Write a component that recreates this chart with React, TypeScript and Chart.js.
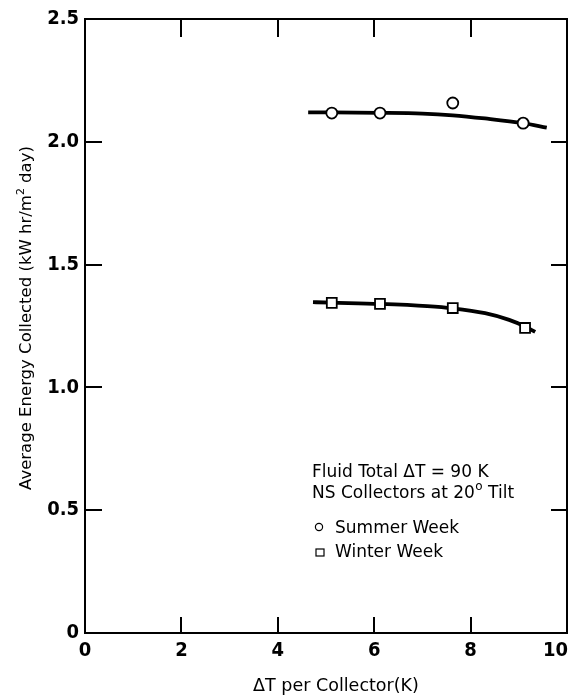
import { useEffect, useRef } from "react";
import { Chart, registerables } from "chart.js";

Chart.register(...registerables);

// Measured data points
const summerX = [5.12, 6.12, 7.63, 9.09];
const summerY = [2.117, 2.117, 2.158, 2.076];
const winterX = [5.12, 6.12, 7.63, 9.13];
const winterY = [1.344, 1.34, 1.323, 1.242];

// Hand-drawn fit curves
const summerFitX = [4.63, 6.1, 7.0, 7.63, 8.3, 9.09, 9.58];
const summerFitY = [2.12, 2.118, 2.115, 2.108, 2.095, 2.076, 2.058];
const winterFitX = [4.73, 5.12, 6.12, 7.1, 7.63, 8.3, 8.8, 9.13, 9.34];
const winterFitY = [1.347, 1.345, 1.34, 1.331, 1.322, 1.302, 1.275, 1.248, 1.226];

const xTicks = [0, 2, 4, 6, 8, 10];
const xTickLabels = ["0", "2", "4", "6", "8", "10"];
const yTicks = [0, 0.5, 1.0, 1.5, 2.0, 2.5];
const yTickLabels = ["0", "0.5", "1.0", "1.5", "2.0", "2.5"];
const seriesLabels = ["Summer Week", "Winter Week"];
const noteLine1 = "Fluid Total \u0394T = 90 K";
const noteLine2 = ["NS Collectors at 20", "o", " Tilt"];
const xTitle = "\u0394T per Collector(K)";
const yTitle = ["Average Energy Collected (kW hr/m", "2", " day)"];

const FONT = "'DejaVu Sans', sans-serif";
const TICKFONT = "'Liberation Sans Narrow', 'DejaVu Sans Condensed', sans-serif";

const zip = (xs: number[], ys: number[]) => xs.map((x, i) => ({ x, y: ys[i] }));

const framePlugin = {
  id: "frame",
  afterDraw(chart: any) {
    const ctx = chart.ctx as CanvasRenderingContext2D;
    const { left, right, top, bottom } = chart.chartArea;
    const xs = chart.scales.x;
    const ys = chart.scales.y;
    ctx.save();
    ctx.strokeStyle = "#000";
    ctx.lineWidth = 2;
    ctx.strokeRect(left, top, right - left, bottom - top);
    // inward ticks
    ctx.beginPath();
    xTicks.slice(1, -1).forEach((v) => {
      const px = Math.round(xs.getPixelForValue(v));
      ctx.moveTo(px, bottom);
      ctx.lineTo(px, bottom - 16);
      ctx.moveTo(px, top);
      ctx.lineTo(px, top + 18);
    });
    yTicks.slice(1, -1).forEach((v) => {
      const py = Math.round(ys.getPixelForValue(v));
      ctx.moveTo(left, py);
      ctx.lineTo(left + 17, py);
      ctx.moveTo(right, py);
      ctx.lineTo(right - 16, py);
    });
    ctx.stroke();

    ctx.fillStyle = "#000";
    // x tick labels
    ctx.font = `bold 20px ${TICKFONT}`;
    ctx.textBaseline = "top";
    xTicks.forEach((v, i) => {
      const px = xs.getPixelForValue(v);
      const w = ctx.measureText(xTickLabels[i]).width;
      ctx.textAlign = "left";
      const lx = Math.min(px - w / 2, chart.width - w - 4);
      ctx.fillText(xTickLabels[i], lx, 641);
    });

    ctx.textBaseline = "alphabetic";
    // annotation
    ctx.font = `17px ${FONT}`;
    ctx.textAlign = "left";
    ctx.fillText(noteLine1, 312, 477);
    let x = 312;
    ctx.fillText(noteLine2[0], x, 498);
    x += ctx.measureText(noteLine2[0]).width;
    ctx.font = `12px ${FONT}`;
    ctx.fillText(noteLine2[1], x + 0.5, 490);
    x += ctx.measureText(noteLine2[1]).width + 0.5;
    ctx.font = `17px ${FONT}`;
    ctx.fillText(noteLine2[2], x, 498);

    // legend
    const ds0 = chart.data.datasets[0];
    const ds1 = chart.data.datasets[1];
    ctx.lineWidth = 1.2;
    ctx.beginPath();
    ctx.arc(319, 527, 3.6, 0, Math.PI * 2);
    ctx.stroke();
    ctx.strokeRect(316, 549, 8, 7);
    ctx.font = `17px ${FONT}`;
    ctx.fillText(ds0.label, 335, 533);
    ctx.fillText(ds1.label, 335, 557);

    // x title
    ctx.font = `17.5px ${FONT}`;
    ctx.textAlign = "center";
    ctx.fillText(xTitle, 336, 691);

    // y title (rotated)
    ctx.translate(31, 318);
    ctx.rotate(-Math.PI / 2);
    ctx.font = `16.5px ${FONT}`;
    const w0 = ctx.measureText(yTitle[0]).width;
    ctx.font = `11px ${FONT}`;
    const w1 = ctx.measureText(yTitle[1]).width;
    ctx.font = `16.5px ${FONT}`;
    const w2 = ctx.measureText(yTitle[2]).width;
    let tx = -(w0 + w1 + w2) / 2;
    ctx.textAlign = "left";
    ctx.fillText(yTitle[0], tx, 0);
    tx += w0;
    ctx.font = `11px ${FONT}`;
    ctx.fillText(yTitle[1], tx, -7);
    tx += w1;
    ctx.font = `16.5px ${FONT}`;
    ctx.fillText(yTitle[2], tx, 0);
    ctx.restore();
  },
};

export default function App() {
  const ref = useRef<HTMLCanvasElement | null>(null);
  useEffect(() => {
    document.body.style.margin = "0";
    if (!ref.current) return;
    const chart = new Chart(ref.current, {
      type: "line",
      data: {
        datasets: [
          {
            label: seriesLabels[0],
            data: zip(summerX, summerY),
            showLine: false,
            pointStyle: "circle",
            pointRadius: 5.5,
            pointBorderWidth: 1.8,
            pointBackgroundColor: "#fff",
            pointBorderColor: "#000",
            order: 0,
          },
          {
            label: seriesLabels[1],
            data: zip(winterX, winterY),
            showLine: false,
            pointStyle: "rect",
            pointRadius: 7,
            pointBorderWidth: 1.8,
            pointBackgroundColor: "#fff",
            pointBorderColor: "#000",
            order: 1,
          },
          {
            label: "summer fit",
            data: zip(summerFitX, summerFitY),
            borderColor: "#000",
            borderWidth: 3.8,
            pointRadius: 0,
            tension: 0.4,
            cubicInterpolationMode: "monotone",
            order: 2,
          },
          {
            label: "winter fit",
            data: zip(winterFitX, winterFitY),
            borderColor: "#000",
            borderWidth: 3.8,
            pointRadius: 0,
            tension: 0.4,
            cubicInterpolationMode: "monotone",
            order: 3,
          },
        ],
      },
      options: {
        responsive: false,
        animation: false,
        devicePixelRatio: 1,
        layout: { autoPadding: false, padding: { left: 0, right: 5, top: 19, bottom: 0 } },
        plugins: { legend: { display: false }, tooltip: { enabled: false }, title: { display: false } },
        scales: {
          x: {
            type: "linear",
            min: 0,
            max: 10,
            grid: { display: false, drawTicks: false },
            border: { display: false },
            afterBuildTicks: (s: any) => {
              s.ticks = xTicks.map((v) => ({ value: v }));
            },
            ticks: { display: false },
            afterFit: (s: any) => {
              s.height = 65;
              s.paddingLeft = 0;
              s.paddingRight = 0;
            },
          },
          y: {
            type: "linear",
            min: 0,
            max: 2.5,
            grid: { display: false, drawTicks: false },
            border: { display: false },
            afterBuildTicks: (s: any) => {
              s.ticks = yTicks.map((v) => ({ value: v }));
            },
            ticks: {
              padding: 6,
              color: "#000",
              font: { family: TICKFONT, size: 20, weight: "bold" },
              callback: (v: any) => {
                const i = yTicks.indexOf(Number(v));
                return i >= 0 ? yTickLabels[i] : "";
              },
            },
            afterFit: (s: any) => {
              s.width = 85;
              s.paddingTop = 0;
              s.paddingBottom = 0;
            },
          },
        },
      },
      plugins: [framePlugin],
    });
    return () => chart.destroy();
  }, []);
  return (
    <div style={{ width: 572, height: 698 }}>
      <canvas ref={ref} width={572} height={698} style={{ display: "block" }} />
    </div>
  );
}
